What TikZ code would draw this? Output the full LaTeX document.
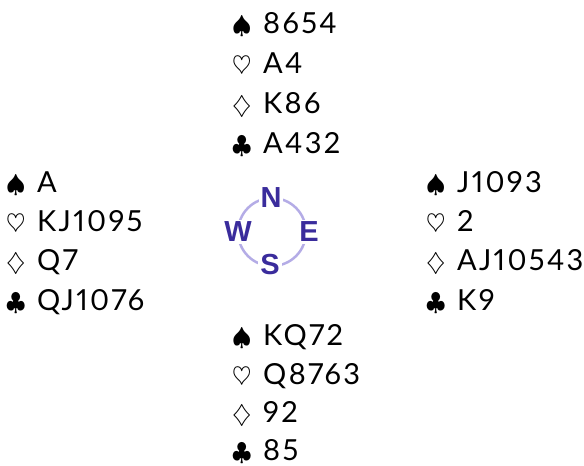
\documentclass[tikz,border=0pt]{standalone}
\usepackage{fontspec}
\setmainfont{Lato}[LetterSpace=8,Numbers=Proportional]
\newfontfamily\compassfont{Liberation Sans}
\definecolor{compassblue}{HTML}{3A2C9C}
\definecolor{compassring}{HTML}{B4ACE6}
\newcommand{\suit}[1]{\makebox[31pt][l]{\fontsize{24}{24}\selectfont$#1$}}

\begin{document}
\begin{tikzpicture}[x=1pt,y=-1pt,
  card/.style={anchor=base west, inner sep=0pt, font=\fontsize{29}{29}\selectfont},
  compass/.style={text=compassblue, fill=white, inner sep=2pt,
    font=\compassfont\bfseries\fontsize{29}{29}\selectfont}]
\useasboundingbox (0,0) rectangle (584,466);
% north
\node[card] (n1) at (232,33) {\suit\spadesuit 8654};
\node[card] (n2) at (232,73) {\suit\heartsuit A4};
\node[card] (n3) at (232,113) {\suit\diamondsuit K86};
\node[card] (n4) at (232,153) {\suit\clubsuit A432};
% west
\node[card] (w1) at (6,192) {\suit\spadesuit A};
\node[card] (w2) at (6,231) {\suit\heartsuit KJ1095};
\node[card] (w3) at (6,270) {\suit\diamondsuit Q7};
\node[card] (w4) at (6,310) {\suit\clubsuit QJ1076};
% east
\node[card] (e1) at (426,192) {\suit\spadesuit J1093};
\node[card] (e2) at (426,231) {\suit\heartsuit 2};
\node[card] (e3) at (426,270) {\suit\diamondsuit AJ10543};
\node[card] (e4) at (426,310) {\suit\clubsuit K9};
% south
\node[card] (s1) at (232,345) {\suit\spadesuit KQ72};
\node[card] (s2) at (232,384) {\suit\heartsuit Q8763};
\node[card] (s3) at (232,422) {\suit\diamondsuit 92};
\node[card] (s4) at (232,460) {\suit\clubsuit 85};
% compass
\coordinate (c) at (272,232);
\draw[compassring, line width=2.5pt] (c) circle[radius=34];
\node[compass] (N) at (271,198) {N};
\node[compass] (S) at (270,265) {S};
\node[compass] (W) at (238,232) {W};
\node[compass] (E) at (309,232) {E};
\end{tikzpicture}
\end{document}
